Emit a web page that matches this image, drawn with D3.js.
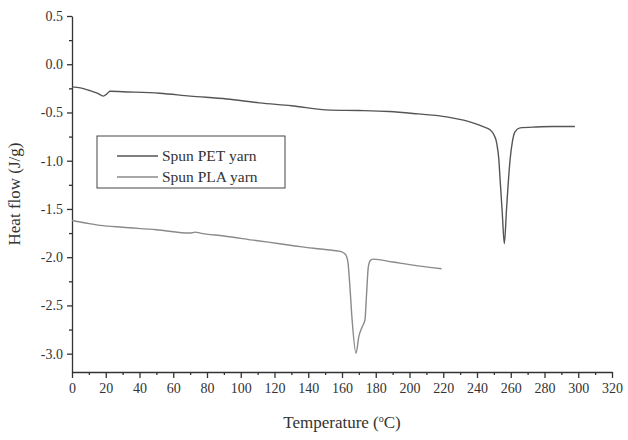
<!DOCTYPE html>
<html>
<head>
<meta charset="utf-8">
<script src="https://cdn.jsdelivr.net/npm/d3@7"></script>
<style>
  body { margin: 0; background: #fff; }
  svg text { font-family: "Liberation Serif", "DejaVu Serif", serif; fill: #333; }
</style>
</head>
<body>
<div id="chart"></div>
<script>
"use strict";

// temperature (C) and heat flow (J/g)
var petTemp = [0, 5, 10, 15, 18.6, 20.5, 22.5, 30, 52, 70, 91.7, 111, 130, 152.9, 170, 188, 205, 222, 232, 238, 244, 247.7, 250, 251.7, 253, 253.6, 255, 256.2, 257.5, 259.6, 261, 262.5, 265.5, 275, 285, 298];
var petFlow = [-0.235, -0.245, -0.27, -0.30, -0.33, -0.31, -0.28, -0.285, -0.30, -0.33, -0.36, -0.40, -0.43, -0.476, -0.48, -0.49, -0.515, -0.545, -0.58, -0.61, -0.65, -0.68, -0.73, -0.82, -1.0, -1.17, -1.55, -1.86, -1.5, -0.99, -0.80, -0.70, -0.66, -0.65, -0.645, -0.645];

var plaTemp = [0, 8, 16.6, 30, 50, 70, 73, 76, 90, 110, 123, 135, 150, 159, 162, 163.5, 164.7, 166, 168.3, 170, 172, 173.6, 174.5, 175.6, 177, 178.6, 190, 205, 219];
var plaFlow = [-1.62, -1.645, -1.67, -1.69, -1.715, -1.75, -1.74, -1.75, -1.78, -1.83, -1.86, -1.89, -1.92, -1.94, -1.97, -2.05, -2.31, -2.65, -2.995, -2.82, -2.72, -2.65, -2.40, -2.10, -2.03, -2.02, -2.05, -2.09, -2.12];

var seriesNames = ["Spun PET yarn", "Spun PLA yarn"];
var seriesColors = ["#555", "#8a8a8a"];

var xTicks = d3.range(0, 321, 20);
var yTicks = [0.5, 0.0, -0.5, -1.0, -1.5, -2.0, -2.5, -3.0];

var width = 628, height = 440;
var margin = { top: 16, right: 16, bottom: 68, left: 72 };

var svg = d3.select("#chart").append("svg")
    .attr("width", width)
    .attr("height", height);

var xScale = d3.scaleLinear().domain([0, 320]).range([margin.left, width - margin.right]);
var yScale = d3.scaleLinear().domain([-3.19, 0.5]).range([height - margin.bottom, margin.top]);

// minor ticks
svg.append("g")
    .attr("transform", "translate(0," + (height - margin.bottom) + ")")
    .call(d3.axisBottom(xScale).tickValues(d3.range(10, 320, 20)).tickSize(3).tickFormat(""))
    .call(function (g) { g.select(".domain").remove(); });
svg.append("g")
    .attr("transform", "translate(" + margin.left + ",0)")
    .call(d3.axisLeft(yScale).tickValues(d3.range(0.25, -3.2, -0.5)).tickSize(3).tickFormat(""))
    .call(function (g) { g.select(".domain").remove(); });

// major axes
var xAxis = svg.append("g")
    .attr("transform", "translate(0," + (height - margin.bottom) + ")")
    .call(d3.axisBottom(xScale).tickValues(xTicks).tickSize(6).tickSizeOuter(0).tickPadding(5));
xAxis.selectAll("text").style("font-size", "14px");

// plain hyphen for negatives, like the original
var yAxis = svg.append("g")
    .attr("transform", "translate(" + margin.left + ",0)")
    .call(d3.axisLeft(yScale).tickValues(yTicks).tickSize(5).tickSizeOuter(0).tickPadding(4)
        .tickFormat(function (d) { return d.toFixed(1).replace("\u2212", "-"); }));
yAxis.selectAll("text").style("font-size", "14px");

svg.selectAll(".domain, .tick line").attr("stroke", "#333").attr("stroke-width", 1.3);

// curves
var line = d3.line()
    .x(function (d) { return xScale(d[0]); })
    .y(function (d) { return yScale(d[1]); })
    .curve(d3.curveMonotoneX);

var petData = petTemp.map(function (t, i) { return [t, petFlow[i]]; });
var plaData = plaTemp.map(function (t, i) { return [t, plaFlow[i]]; });

[petData, plaData].forEach(function (d, i) {
    svg.append("path")
        .datum(d)
        .attr("fill", "none")
        .attr("stroke", seriesColors[i])
        .attr("stroke-width", 1.4)
        .attr("d", line);
});

// legend
var legend = svg.append("g").attr("transform", "translate(97,136)");
legend.append("rect")
    .attr("width", 188).attr("height", 52)
    .attr("fill", "#fff").attr("stroke", "#444").attr("stroke-width", 1);
seriesNames.forEach(function (name, i) {
    var yy = 20 + i * 21;
    legend.append("line")
        .attr("x1", 20).attr("x2", 61).attr("y1", yy).attr("y2", yy)
        .attr("stroke", seriesColors[i]).attr("stroke-width", 1.4);
    legend.append("text")
        .attr("x", 65).attr("y", yy + 5)
        .style("font-size", "15.5px")
        .text(name);
});

// axis titles
svg.append("text")
    .attr("transform", "translate(20," + ((margin.top + height - margin.bottom) / 2) + ") rotate(-90)")
    .attr("text-anchor", "middle")
    .style("font-size", "17px")
    .text("Heat flow (J/g)");

var xt = svg.append("text")
    .attr("x", (margin.left + width - margin.right) / 2)
    .attr("y", 428)
    .attr("text-anchor", "middle")
    .style("font-size", "17px");
xt.append("tspan").text("Temperature (");
xt.append("tspan").attr("dy", -6).style("font-size", "10px").text("o");
xt.append("tspan").attr("dy", 6).text("C)");
</script>
</body>
</html>
